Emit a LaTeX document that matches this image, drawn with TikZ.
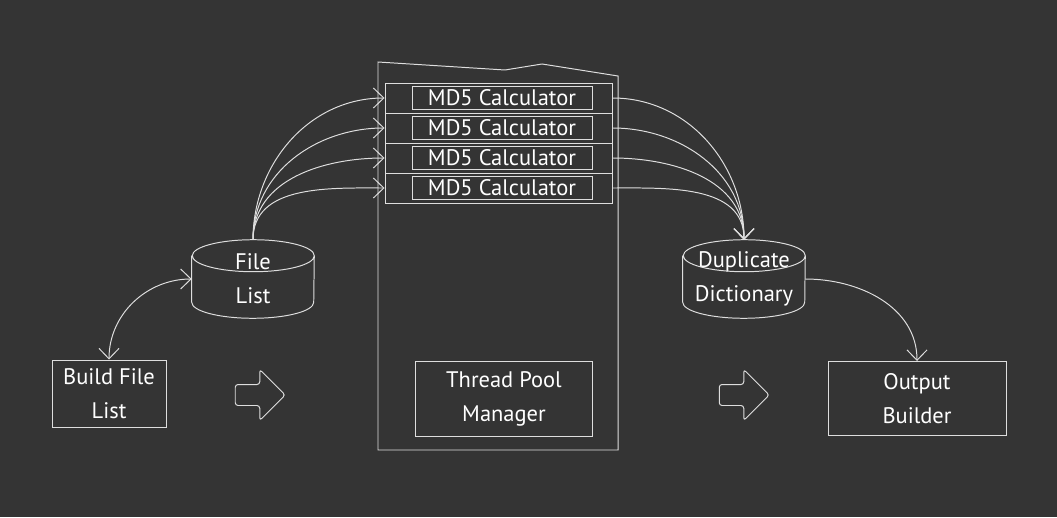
\documentclass[tikz,border=0pt]{standalone}
\usepackage{fontspec}
\setmainfont{PT Sans}
\usetikzlibrary{shapes.geometric,shapes.arrows,arrows.meta,positioning}
\definecolor{board}{RGB}{52,52,52}
\definecolor{chalk}{RGB}{222,222,222}
\tikzstyle{box} = [rectangle, draw=chalk, line width=0.7pt, text=white, align=center, font=\fontsize{16}{24}\selectfont]
\tikzstyle{store} = [rectangle, minimum width=3.05cm, minimum height=1.95cm, text=white, align=center, font=\fontsize{16}{24}\selectfont]
\tikzstyle{band} = [rectangle, draw=chalk, line width=0.7pt, minimum width=5.675cm, minimum height=0.75cm]
\tikzstyle{md5} = [box, minimum width=4.5cm, minimum height=0.575cm, inner sep=0pt]
\tikzstyle{bigarrow} = [single arrow, draw=chalk, line width=0.7pt, inner sep=0pt, text width=0pt, text height=0.25cm, text depth=0.25cm, minimum height=1.25cm, single arrow head extend=0.375cm, rounded corners=2pt]
\tikzstyle{arrow} = [chalk, line width=0.7pt, ->, >={Straight Barb[length=2.6mm,width=5mm]}]
% drum outline round a store node
\newcommand{\drum}[1]{%
  \draw[chalk, line width=0.7pt] ([yshift=-0.4cm]#1.north west) -- ([yshift=0.4cm]#1.south west)
    arc[start angle=180, end angle=360, x radius=1.525cm, y radius=0.4cm]
    -- ([yshift=-0.4cm]#1.north east)
    arc[start angle=0, end angle=360, x radius=1.525cm, y radius=0.4cm];}

\begin{document}
\begin{tikzpicture}[node distance=0.75cm]
  \fill[board] (0,0) rectangle (26.425,12.925);
  \useasboundingbox (0,0) rectangle (26.425,12.925);
  % thread pool
  \draw[chalk, line width=0.7pt] (9.45,1.675) -- (9.45,11.375) -- (12.625,11.175) -- (13.55,11.325) -- (15.45,11.025) -- (15.45,1.675) -- cycle;
  \node (band1)[band] at (12.4625,10.475) {};
  \node (band2)[band, below of=band1] {};
  \node (band3)[band, below of=band2] {};
  \node (band4)[band, below of=band3] {};
  \foreach \b in {band1,band2,band3,band4}
    \node[md5] at ([xshift=0.0875cm]\b.center) {MD5 Calculator};
  \node (tpm)[box, minimum width=4.425cm, minimum height=1.875cm] at (12.6,2.95) {Thread Pool\\Manager};

  \node (build)[box, minimum width=2.85cm, minimum height=1.675cm] at (2.725,3.0875) {Build File\\List};
  \node (flist)[store] at (6.325,5.95) {File\\List};
  \node (dup)[store] at (18.6,5.95) {Duplicate\\Dictionary};
  \drum{flist}
  \drum{dup}
  \node (outb)[box, minimum width=4.45cm, minimum height=1.85cm] at (22.925,2.9625) {Output\\Builder};
  \node (step1)[bigarrow] at (6.375,3.05) {};
  \node (step2)[bigarrow] at (18.475,3.05) {};

  \draw [arrow, <->] (build.north) to[out=90,in=180] (flist.west);
  \foreach \b in {band1,band2,band3,band4} {
    \draw [arrow] (flist.north) to[out=90,in=180] (\b.west);
    \draw [arrow] (\b.east) to[out=0,in=90] (dup.north);
  }
  \draw [arrow] (dup.east) to[out=0,in=90] (outb.north);
\end{tikzpicture}
\end{document}
